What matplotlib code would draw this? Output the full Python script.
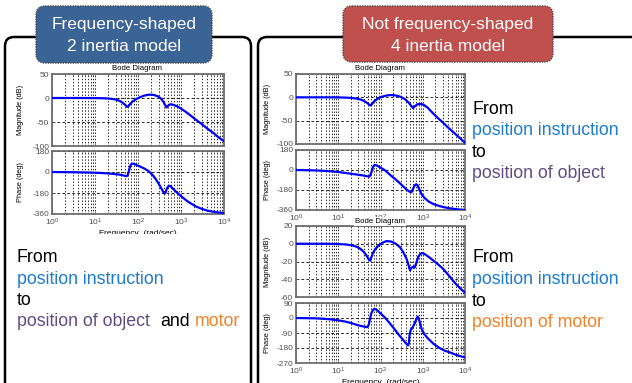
import matplotlib
matplotlib.use("Agg")
import matplotlib.pyplot as plt
from matplotlib.patches import FancyBboxPatch, Rectangle
from matplotlib.transforms import Affine2D
from matplotlib.ticker import LogLocator, NullFormatter, FixedLocator

plt.rcParams["font.family"] = ["Liberation Sans", "DejaVu Sans"]
plt.rcParams["axes.unicode_minus"] = False

# ---------------- data (frequency in rad/sec) ----------------
# 2-inertia model (frequency shaped): position of object
w2_mag = [1, 5, 10, 15, 20, 28, 35, 42, 50, 56, 60, 66, 75, 90, 110, 140, 180,
          230, 290, 340, 390, 430, 460, 500, 560, 650, 800, 1000, 1300, 1700,
          2200, 3000, 4000, 5500, 7500, 10000]
mag2 = [0, 0, -0.2, -0.5, -1, -2.5, -5, -8.5, -14, -18.5, -17, -12, -7, -2.5,
        1.5, 5, 7, 6.5, 3.5, -1, -8, -15, -20, -16, -13, -14, -17, -22, -29,
        -37, -45, -54, -63, -72, -82, -90]
w2_ph = [1, 3, 6, 10, 15, 20, 28, 36, 44, 50, 54, 57, 60, 64, 68, 73, 80, 90,
         110, 140, 180, 230, 280, 330, 380, 410, 440, 470, 520, 560, 620, 700,
         800, 950, 1150, 1400, 1800, 2300, 3000, 4000, 5500, 7500, 10000]
ph2 = [0, -2, -4, -6, -9, -12, -17, -22, -28, -33, -36, -30, -5, 35, 62, 72,
       70, 62, 48, 30, 5, -35, -80, -125, -165, -185, -175, -140, -118, -120,
       -135, -155, -175, -200, -225, -250, -275, -298, -315, -330, -340, -347,
       -351]

# 4-inertia model: position of object
w4o_mag = [1, 5, 10, 15, 20, 28, 35, 42, 50, 57, 62, 70, 85, 105, 140, 180,
           230, 300, 380, 460, 530, 590, 650, 750, 900, 1050, 1300, 1700, 2200,
           3000, 4000, 5500, 7500, 10000]
mag4o = [0, 0, -0.2, -0.6, -1.2, -2.8, -5, -8.5, -13, -17.5, -15, -9, -3, 1, 4,
         5, 4, 1, -4, -11, -18, -23, -19, -15, -14, -16, -22, -33, -43, -54,
         -65, -76, -87, -97]
w4o_ph = [1, 3, 6, 10, 15, 22, 30, 40, 50, 54, 58, 62, 66, 72, 80, 100, 130,
          170, 220, 280, 350, 420, 500, 540, 580, 640, 700, 760, 850, 950, 1100,
          1400, 1800, 2500, 3600, 5000, 7000, 10000]
ph4o = [0, -4, -10, -18, -27, -36, -43, -50, -57, -60, -45, -10, 25, 45, 42, 22,
        -5, -45, -80, -115, -150, -178, -198, -200, -175, -140, -128, -140,
        -185, -220, -252, -285, -307, -325, -339, -348, -355, -360]

# 4-inertia model: position of motor
w4m_mag = [1, 5, 10, 15, 20, 26, 33, 40, 47, 53, 57, 61, 67, 75, 90, 110, 138,
           180, 230, 290, 350, 415, 460, 500, 540, 590, 640, 700, 780, 870, 970,
           1100, 1400, 2150, 3000, 4350, 6000, 8000, 10000]
mag4m = [0, 0, -0.3, -0.8, -1.6, -3, -5.5, -9, -13.5, -18, -19, -15, -10, -6,
         -2, 1, 3, 2.5, 0, -4, -10, -17, -24, -30, -27, -26, -27, -22, -15,
         -11.5, -10.5, -11.5, -15, -22, -28, -37, -45, -51, -55]
w4m_ph = [1, 3, 6, 10, 15, 20, 28, 36, 44, 48, 52, 56, 60, 66, 72, 80, 100, 130,
          170, 210, 270, 340, 400, 450, 470, 490, 520, 580, 650, 720, 770, 830,
          920, 1070, 1300, 1780, 2500, 3300, 4350, 6000, 8000, 10000]
ph4m = [0, -2, -7, -14, -22, -30, -42, -49, -53, -55, -45, -10, 25, 48, 55, 50,
        28, 0, -35, -64, -100, -130, -152, -165, -150, -95, -72, -55, -30, 0, 8,
        -15, -60, -94, -120, -154, -180, -196, -206, -220, -230, -236]

freq_ticks = [1, 10, 100, 1000, 10000]
mag_ticks_a = [50, 0, -50, -100]
ph_ticks_a = [180, 0, -180, -360]
mag_ticks_b = [20, 0, -20, -40, -60]
ph_ticks_b = [90, 0, -90, -180, -270]

# ---------------- figure ----------------
W, H = 632, 383
fig = plt.figure(figsize=(W / 100, H / 100), dpi=100)
fig.patch.set_facecolor("white")

# pixel coordinates with origin at top-left
pix = Affine2D().scale(1 / W, -1 / H).translate(0, 1) + fig.transFigure


def rect(x0, y0, x1, y1):
    return [x0 / W, 1 - y1 / H, (x1 - x0) / W, (y1 - y0) / H]


def ftext(x, y, s, **kw):
    return fig.text(x / W, 1 - y / H, s, **kw)


BLUE_TXT = "#1C7CD0"
PURPLE_TXT = "#604C82"
ORANGE_TXT = "#EE8228"
LINE = "#0000FF"
TICK_C = "#505050"


def style_axes(ax, ylim, yticks, show_x):
    ax.set_xscale("log")
    ax.set_xlim(1, 1e4)
    ax.set_ylim(*ylim)
    ax.yaxis.set_major_locator(FixedLocator(yticks))
    ax.xaxis.set_major_locator(FixedLocator(freq_ticks))
    ax.xaxis.set_minor_locator(LogLocator(base=10, subs=range(2, 10), numticks=20))
    ax.xaxis.set_minor_formatter(NullFormatter())
    ax.grid(which="both", axis="x", color="#1a1a1a", lw=0.65, ls=(0, (1.5, 2.0)))
    ax.grid(which="major", axis="y", color="#1a1a1a", lw=0.65, ls=(0, (3, 2.5)))
    for sp in ax.spines.values():
        sp.set_color("#6e6e6e")
        sp.set_linewidth(1.3)
    ax.tick_params(which="both", direction="in", top=True, right=True,
                   color="#555555", labelsize=6, labelcolor=TICK_C, pad=2)
    ax.tick_params(which="major", length=2.5, width=0.5)
    ax.tick_params(which="minor", length=1.2, width=0.4)
    if not show_x:
        ax.tick_params(axis="x", labelbottom=False)


def bode_pair(x0, x1, my0, my1, py0, py1, wm, m, wp, p, ylim_m, yt_m, ylim_p,
              yt_p, z, label_x):
    axm = fig.add_axes(rect(x0, my0, x1, my1))
    axp = fig.add_axes(rect(x0, py0, x1, py1))
    for ax in (axm, axp):
        ax.set_zorder(z)
    axm.plot(wm, m, color=LINE, lw=1.6, zorder=3)
    axp.plot(wp, p, color=LINE, lw=1.6, zorder=3)
    style_axes(axm, ylim_m, yt_m, False)
    style_axes(axp, ylim_p, yt_p, True)
    axm.set_ylabel("Magnitude (dB)", fontsize=5.3)
    axp.set_ylabel("Phase (deg)", fontsize=5.3)
    axm.yaxis.set_label_coords(label_x, 0.5)
    axp.yaxis.set_label_coords(label_x, 0.5)
    axp.set_xlabel("Frequency  (rad/sec)", fontsize=6, labelpad=1.5)
    return axm, axp


# panel frames
for (px0, py0, pw, ph) in [(5, 37, 246, 420), (258, 37, 420, 420)]:
    fig.add_artist(FancyBboxPatch((px0, py0), pw, ph,
                                  boxstyle="round,pad=0,rounding_size=9",
                                  transform=pix, fill=False, ec="black",
                                  lw=1.8, zorder=0.2, clip_on=False))

# left panel: 2-inertia model
bode_pair(52, 224, 74, 146, 151, 214, w2_mag, mag2, w2_ph, ph2,
          (-100, 50), mag_ticks_a, (-360, 180), ph_ticks_a, 1, -0.165)
ftext(137, 70.5, "Bode Diagram", fontsize=5.6, ha="center", zorder=5)
# lower edge of the left plot image is trimmed
fig.add_artist(Rectangle((40, 233.5), 200, 14, transform=pix, fc="white",
                         ec="none", zorder=1.5))

# right panel: 4-inertia model, object
bode_pair(296, 465, 74, 144, 150, 210, w4o_mag, mag4o, w4o_ph, ph4o,
          (-100, 50), mag_ticks_a, (-360, 180), ph_ticks_a, 1, -0.150)
ftext(380, 69.5, "Bode Diagram", fontsize=5.6, ha="center", zorder=5)
# the motor plot image sits on top of the object plot's lower edge
fig.add_artist(Rectangle((262, 221.5), 208, 170, transform=pix, fc="white",
                         ec="none", zorder=1.5))

# right panel: 4-inertia model, motor
bode_pair(296, 465, 226, 297, 303, 363, w4m_mag, mag4m, w4m_ph, ph4m,
          (-60, 20), mag_ticks_b, (-270, 90), ph_ticks_b, 2, -0.150)
ftext(380, 223, "Bode Diagram", fontsize=5.6, ha="center", zorder=2.5,
      bbox=dict(fc="white", ec="none", pad=0.6))

# header boxes
for (bx, by, bw, bh, col, l1, l2) in [
        (36, 6, 176, 57, "#3B6496", "Frequency-shaped", "2 inertia model"),
        (343, 6, 210, 56, "#C0504D", "Not frequency-shaped", "4 inertia model")]:
    fig.add_artist(FancyBboxPatch((bx, by), bw, bh,
                                  boxstyle="round,pad=0,rounding_size=9",
                                  transform=pix, fc=col, ec="#4a4a4a", lw=1.0,
                                  ls=(0, (1, 0.8)), zorder=3))
    cx = bx + bw / 2
    ftext(cx, 29.5, l1, fontsize=12.5, color="white", ha="center",
          va="baseline", zorder=4)
    ftext(cx, 51, l2, fontsize=12.5, color="white", ha="center",
          va="baseline", zorder=4)

# captions
FS = 12.8


def caption(x, ys, target_color, target):
    ftext(x, ys[0], "From", fontsize=FS, color="black", va="baseline", zorder=5)
    ftext(x, ys[1], "position instruction", fontsize=FS, color=BLUE_TXT,
          va="baseline", zorder=5)
    ftext(x, ys[2], "to", fontsize=FS, color="black", va="baseline", zorder=5)
    return ftext(x, ys[3], target, fontsize=FS, color=target_color,
                 va="baseline", zorder=5)


obj_left = caption(17, [262, 283.5, 305, 326.5], PURPLE_TXT,
                   "position of object")
caption(472, [114, 135.5, 157, 178.5], PURPLE_TXT, "position of object")
caption(472, [262.3, 284, 305.7, 327.3], ORANGE_TXT, "position of motor")

# "and motor" continues the left caption's last line
fig.canvas.draw()
r = fig.canvas.get_renderer()
bb = obj_left.get_window_extent(r)
and_t = fig.text((bb.x1 + 10) / W, 1 - 326.5 / H, "and", fontsize=FS,
                 color="black", va="baseline", zorder=5)
bb2 = and_t.get_window_extent(r)
fig.text((bb2.x1 + 5) / W, 1 - 326.5 / H, "motor", fontsize=FS,
         color=ORANGE_TXT, va="baseline", zorder=5)

fig.savefig("out.png", dpi=100, facecolor="white")
